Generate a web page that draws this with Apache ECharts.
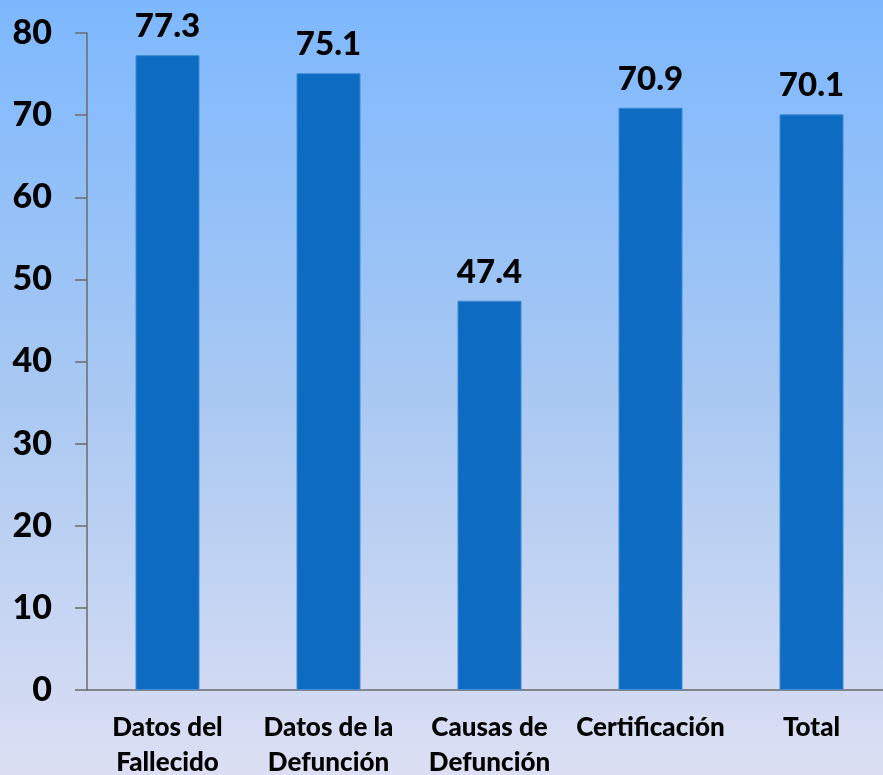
<!DOCTYPE html>
<html>
<head>
<meta charset="utf-8">
<script src="https://cdn.jsdelivr.net/npm/echarts@6/dist/echarts.min.js"></script>
<style>
  html, body { margin: 0; padding: 0; }
  #chart { width: 883px; height: 775px; }
</style>
</head>
<body>
<div id="chart"></div>
<script>
// categorías y valores
const categories = ["Datos del\nFallecido", "Datos de la\nDefunción", "Causas de\nDefunción", "Certificación", "Total"];
const values = [77.3, 75.1, 47.4, 70.9, 70.1];
const yTicks = [0, 10, 20, 30, 40, 50, 60, 70, 80];

const chart = echarts.init(document.getElementById("chart"));

const option = {
  backgroundColor: new echarts.graphic.LinearGradient(0, 0, 0, 1, [
    { offset: 0, color: "#7db8fe" },
    { offset: 0.5, color: "#a8c8f2" },
    { offset: 1, color: "#dcdff3" },
  ]),
  textStyle: { fontFamily: "Lato, sans-serif" },
  grid: { left: 87, top: 33, width: 805, height: 657, outerBoundsMode: "none" },
  xAxis: {
    type: "category",
    data: categories,
    axisLine: { lineStyle: { color: "#6b6b6b", width: 1.5 } },
    axisTick: { length: 9, lineStyle: { color: "#6b6b6b", width: 1.5 } },
    axisLabel: {
      color: "#000",
      fontWeight: 900,
      fontSize: 26,
      lineHeight: 35,
      margin: 20,
      interval: 0,
    },
  },
  yAxis: {
    type: "value",
    min: yTicks[0],
    max: yTicks[yTicks.length - 1],
    interval: 10,
    splitLine: { show: false },
    axisLine: { show: true, lineStyle: { color: "#6b6b6b", width: 1.5 } },
    axisTick: { show: true, length: 12, lineStyle: { color: "#6b6b6b", width: 1.5 } },
    axisLabel: {
      color: "#000",
      fontWeight: 900,
      fontSize: 34,
      margin: 35,
    },
  },
  series: [
    {
      type: "bar",
      data: values,
      barWidth: 64,
      itemStyle: { color: "#0e6bc2", borderColor: "#3d8ad6", borderWidth: 1 },
      label: {
        show: true,
        position: "top",
        distance: 12,
        color: "#000",
        fontWeight: 900,
        fontSize: 33,
        formatter: (p) => p.value.toFixed(1),
      },
    },
  ],
};
chart.setOption(option);
</script>
</body>
</html>
